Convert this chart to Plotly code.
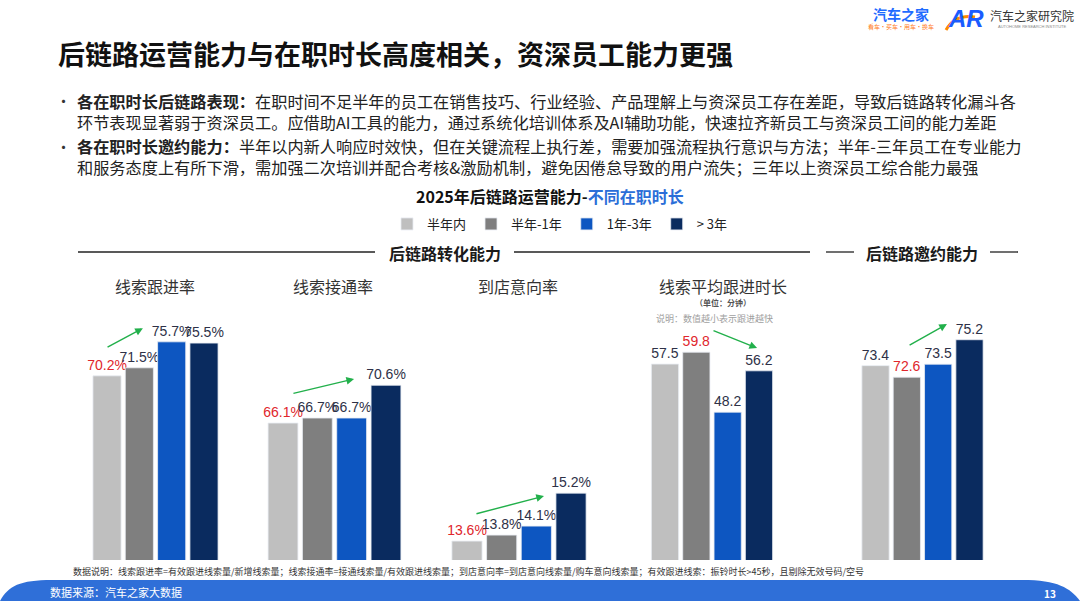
import plotly.graph_objects as go

W, H = 1080, 601

# ---------------- data ----------------
tenures = ["半年内", "半年-1年", "1年-3年", "> 3年"]
tenure_colors = ["#BFBFBF", "#7F7F7F", "#0D56C1", "#0A2B5F"]

chart_titles = ["线索跟进率", "线索接通率", "到店意向率", "线索平均跟进时长", ""]
follow_rate = [70.2, 71.5, 75.7, 75.5]          # %
connect_rate = [66.1, 66.7, 66.7, 70.6]         # %
store_intent_rate = [13.6, 13.8, 14.1, 15.2]    # %
avg_follow_minutes = [57.5, 59.8, 48.2, 56.2]   # 分钟
invite_score = [73.4, 72.6, 73.5, 75.2]
series = [follow_rate, connect_rate, store_intent_rate, avg_follow_minutes, invite_score]
label_formats = ["%{y:.1f}%", "%{y:.1f}%", "%{y:.1f}%", "%{y:.1f}", "%{y:.1f}"]
highlight_idx = [0, 0, 0, 1, 1]   # value shown in red

# ---------------- layout helpers ----------------
def px(x):
    return x / W

def py(y):
    return 1 - y / H

x_domains_px = [(90.85, 220.15), (265.85, 403.15), (449.65, 588.35), (649.35, 774.65), (859.85, 985.15)]
y_ranges = [(40.4, 82.47), (49.8, 80.75), (12.97, 21.64), (19.6, 69.9), (59.9, 77.96)]
y_domain = [py(560), py(300)]

LABEL_FONT = "Liberation Sans Narrow, Arial Narrow, Liberation Sans, Arial, sans-serif"
CJK = "Microsoft YaHei, Noto Sans CJK SC, sans-serif"
RED = "#E0262C"
DARK = "#2E3147"

fig = go.Figure()

for c, vals in enumerate(series):
    xa = "x" if c == 0 else f"x{c+1}"
    ya = "y" if c == 0 else f"y{c+1}"
    for g, name in enumerate(tenures):
        fig.add_trace(go.Bar(
            x=[g], y=[vals[g]], name=name,
            xaxis=xa, yaxis=ya,
            marker=dict(color=tenure_colors[g], line=dict(color="#E8ECF2", width=0.8)),
            width=0.87,
            legendgroup=name, showlegend=(c == 0),
            texttemplate=label_formats[c], textposition="outside",
            constraintext="none", cliponaxis=False,
            textfont=dict(family=LABEL_FONT, size=14,
                          color=RED if g == highlight_idx[c] else DARK),
            hoverinfo="skip",
        ))

layout_axes = {}
for c in range(5):
    sfx = "" if c == 0 else str(c + 1)
    x0, x1 = x_domains_px[c]
    layout_axes[f"xaxis{sfx}"] = dict(domain=[px(x0), px(x1)], range=[-0.5, 3.5],
                                       visible=False, anchor=f"y{sfx}", fixedrange=True)
    layout_axes[f"yaxis{sfx}"] = dict(domain=y_domain, range=list(y_ranges[c]),
                                       visible=False, anchor=f"x{sfx}", fixedrange=True)

annotations = []
shapes = []

def text(x, y, s, size, color="#222", xanchor="center", yanchor="middle", family=CJK, align="left"):
    annotations.append(dict(x=px(x), y=py(y), xref="paper", yref="paper", text=s,
                            showarrow=False, xanchor=xanchor, yanchor=yanchor, align=align,
                            font=dict(family=family, size=size, color=color)))

# title
text(56, 53, "<b>后链路运营能力与在职时长高度相关，资深员工能力更强</b>", 27, "#111", xanchor="left")

# bullets
text(63, 101, "•", 15, "#333")
text(63, 146, "•", 15, "#333")
text(75, 111, "<b>各在职时长后链路表现：</b>在职时间不足半年的员工在销售技巧、行业经验、产品理解上与资深员工存在差距，导致后链路转化漏斗各"
              "<br>环节表现显著弱于资深员工。应借助AI工具的能力，通过系统化培训体系及AI辅助功能，快速拉齐新员工与资深员工间的能力差距",
     16.2, "#222", xanchor="left")
text(75, 156, "<b>各在职时长邀约能力：</b>半年以内新人响应时效快，但在关键流程上执行差，需要加强流程执行意识与方法；半年-三年员工在专业能力"
              "<br>和服务态度上有所下滑，需加强二次培训并配合考核&激励机制，避免因倦怠导致的用户流失；三年以上资深员工综合能力最强",
     16.2, "#222", xanchor="left")

# chart title
text(550, 196, "<b>2025年后链路运营能力-<span style='color:#2B6ED8'>不同在职时长</span></b>", 16, "#111")

# section headers
text(445, 253, "<b>后链路转化能力</b>", 16, "#1a1a1a")
text(922, 253, "<b>后链路邀约能力</b>", 16, "#1a1a1a")
for (a, b) in [(78, 375), (514, 810), (826, 854), (990, 1018)]:
    shapes.append(dict(type="line", xref="paper", yref="paper", x0=px(a), x1=px(b),
                       y0=py(252), y1=py(252), line=dict(color="#222", width=1.3)))

# sub-chart titles
title_x = [155, 333, 518, 723]
for i in range(4):
    text(title_x[i], 286, chart_titles[i], 16, "#333")
text(723, 302, "<b>（单位：分钟）</b>", 8, "#555")
text(714, 318, "说明：数值越小表示跟进越快", 9, "#A0A0A0")

# trend arrows (data coordinates of each subplot)
arrows = [
    ("x", "y", -0.03, 74.7, 1.11, 77.9),
    ("x2", "y2", 0.26, 69.6, 2.07, 71.35),
    ("x3", "y3", 0.23, 14.5, 2.22, 15.1),
    ("x4", "y4", 1.5, 64.1, 2.94, 60.6),
    ("x5", "y5", 1.04, 74.76, 2.28, 76.29),
]
for xr, yr, sx, sy, ex, ey in arrows:
    annotations.append(dict(x=ex, y=ey, xref=xr, yref=yr, ax=sx, ay=sy, axref=xr, ayref=yr,
                            showarrow=True, arrowhead=2, arrowsize=1.1, arrowwidth=1.4,
                            arrowcolor="#22B04B", text=""))

# footnote
text(71, 571, "数据说明：线索跟进率=有效跟进线索量/新增线索量；线索接通率=接通线索量/有效跟进线索量；到店意向率=到店意向线索量/购车意向线索量；有效跟进线索：振铃时长>45秒，且剔除无效号码/空号",
     9, "#333", xanchor="left")

# footer band
def P(x, y):
    return f"{px(x):.5f},{py(y):.5f}"
path = (f"M {P(0, 601)} C {P(8, 586)} {P(20, 580)} {P(52, 580)} L {P(1022, 580)} "
        f"C {P(1058, 580)} {P(1070, 588)} {P(1080, 601)} Z")
shapes.append(dict(type="path", xref="paper", yref="paper", path=path,
                   fillcolor="#2F6FD8", line=dict(width=0)))
text(48, 592, "数据来源：汽车之家大数据", 11, "#FFFFFF", xanchor="left")
text(1050, 593, "<b>13</b>", 10, "#FFFFFF")

# logos
text(901, 14, "<b>汽车之家</b>", 14, "#1F6BFF")
text(901, 27, "看车·买车·用车·换车", 6, "#FF7A1A")
text(966, 19, "<b><i>AR</i></b>", 24, "#1A5CFF", family="Arial, Liberation Sans")
shapes.append(dict(type="path", xref="paper", yref="paper",
                   path=f"M {P(946, 30)} Q {P(955, 14)} {P(975, 17)}",
                   line=dict(color="#FF8A00", width=3)))
text(1032, 16, "汽车之家研究院", 12, "#333")
text(1032, 27, "AUTOHOME RESEARCH INSTITUTE", 4, "#888", family="Arial")

fig.update_layout(
    width=W, height=H,
    margin=dict(l=0, r=0, t=0, b=0),
    paper_bgcolor="white", plot_bgcolor="white",
    barmode="overlay",
    showlegend=True,
    legend=dict(orientation="h", x=px(560), y=py(224), xanchor="center", yanchor="middle",
                font=dict(family=CJK, size=13, color="#222"), itemwidth=30,
                traceorder="normal", bgcolor="rgba(0,0,0,0)"),
    annotations=annotations,
    shapes=shapes,
    **layout_axes,
)

fig.write_html("out.html", config={"displayModeBar": False},
               post_script="document.body.style.margin='0';document.body.style.overflow='hidden';")
